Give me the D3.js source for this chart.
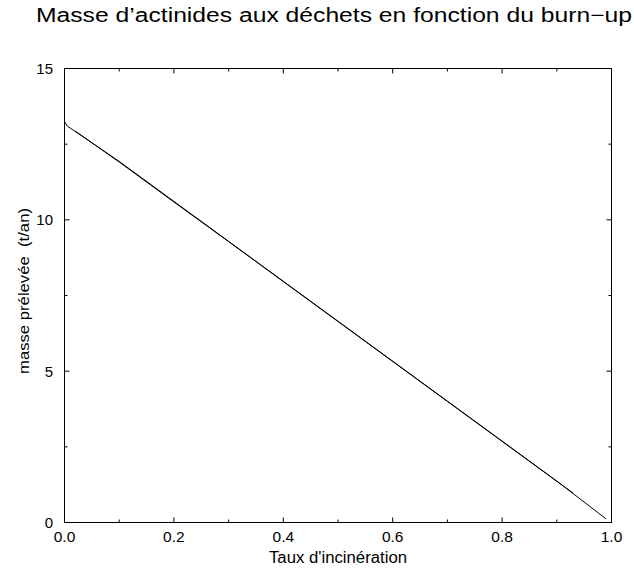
<!DOCTYPE html>
<html>
<head>
<meta charset="utf-8">
<script src="https://cdn.jsdelivr.net/npm/d3@7"></script>
<style>
  html, body { margin: 0; padding: 0; background: #fff; }
  svg { display: block; font-family: "Liberation Sans", Arial, sans-serif; }
  text { white-space: pre; }
</style>
</head>
<body>
<svg id="chart" width="634" height="571"></svg>
<script>
// Burn-up fraction (x) and mass of actinides withdrawn to waste (t/an)
const tauxA = [0, 0.005, 0.1, 0.2, 0.3, 0.4, 0.5, 0.6, 0.7, 0.8, 0.9, 0.99];
const masseA = [13.25, 13.1, 11.93, 10.61, 9.29, 7.97, 6.65, 5.33, 4.01, 2.69, 1.37, 0.12];
const tauxB = [0.02, 0.1, 0.2, 0.3, 0.4, 0.5, 0.6, 0.7, 0.8, 0.9, 0.93];
const masseB = [12.93, 11.91, 10.59, 9.28, 7.96, 6.64, 5.32, 4.0, 2.68, 1.36, 0.97];

const xMajor = [0, 0.2, 0.4, 0.6, 0.8, 1.0];
const xMinor = [0.1, 0.3, 0.5, 0.7, 0.9];
const yMajor = [0, 5, 10, 15];
const yMinor = [2.5, 7.5, 12.5];

const title = "Masse d\u2019actinides aux déchets en fonction du burn\u2212up";
const xTitle = "Taux d'incinération";
const yTitle = "masse prélevée  (t/an)";

const svg = d3.select("#chart");
const L = 64.5, R = 611.5, T = 68.5, B = 522.5;

const x = d3.scaleLinear().domain([0, 1]).range([L, R]);
const y = d3.scaleLinear().domain([0, 15]).range([B, T]);

// frame
svg.append("rect")
  .attr("x", L).attr("y", T).attr("width", R - L).attr("height", B - T)
  .attr("fill", "none").attr("stroke", "#000").attr("stroke-width", 1);

// inward ticks on all four sides
function ticks(vals, len) {
  vals.forEach(v => {
    const px = x(v);
    svg.append("line").attr("x1", px).attr("x2", px).attr("y1", B).attr("y2", B - len).attr("stroke", "#000");
    svg.append("line").attr("x1", px).attr("x2", px).attr("y1", T).attr("y2", T + len).attr("stroke", "#000");
  });
}
function yticks(vals, len) {
  vals.forEach(v => {
    const py = y(v);
    svg.append("line").attr("y1", py).attr("y2", py).attr("x1", L).attr("x2", L + len).attr("stroke", "#000");
    svg.append("line").attr("y1", py).attr("y2", py).attr("x1", R).attr("x2", R - len).attr("stroke", "#000");
  });
}
ticks(xMajor, 5); ticks(xMinor, 3);
yticks(yMajor, 5); yticks(yMinor, 3);

// tick labels
svg.append("g").selectAll("text").data(xMajor).join("text")
  .attr("x", d => x(d)).attr("y", 542)
  .attr("text-anchor", "middle").attr("font-size", 15.5)
  .text(d3.format(".1f"));
svg.append("g").selectAll("text").data(yMajor).join("text")
  .attr("x", 53).attr("y", d => y(d) + 5.5)
  .attr("text-anchor", "end").attr("font-size", 15)
  .text(d => d);

// axis titles
svg.append("text").attr("x", 269).attr("y", 563)
  .attr("font-size", 16)
  .attr("textLength", 138).attr("lengthAdjust", "spacingAndGlyphs")
  .text(xTitle);
svg.append("text").attr("transform", "translate(29,374) rotate(-90)")
  .attr("font-size", 15.5)
  .attr("textLength", 166).attr("lengthAdjust", "spacingAndGlyphs")
  .text(yTitle);

// title
svg.append("text").attr("x", 36).attr("y", 22)
  .attr("font-size", 20)
  .attr("textLength", 596).attr("lengthAdjust", "spacingAndGlyphs")
  .text(title);

// curves
const line = d3.line().x(d => x(d[0])).y(d => y(d[1]));
svg.append("path").datum(d3.zip(tauxA, masseA))
  .attr("d", line).attr("fill", "none").attr("stroke", "#000").attr("stroke-width", 1);
svg.append("path").datum(d3.zip(tauxB, masseB))
  .attr("d", line).attr("fill", "none").attr("stroke", "#000").attr("stroke-width", 1);
</script>
</body>
</html>
